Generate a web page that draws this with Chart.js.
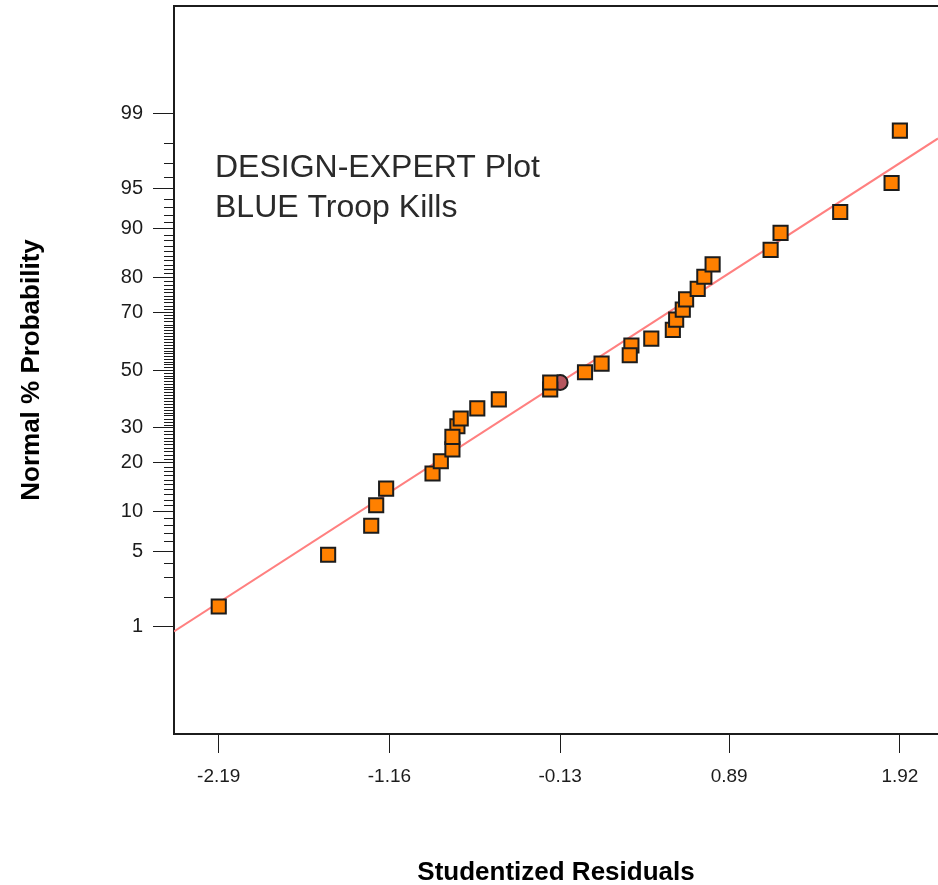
<!DOCTYPE html>
<html>
<head>
<meta charset="utf-8">
<script src="https://cdn.jsdelivr.net/npm/chart.js@4/dist/chart.umd.min.js"></script>
<style>
  html, body { margin: 0; padding: 0; background: #ffffff; overflow: hidden; }
  #wrap { width: 938px; height: 885px; }
</style>
</head>
<body>
<div id="wrap"><canvas id="chart" width="938" height="885"></canvas></div>
<script>
// Studentized residuals (x) and their normal probability in percent (y)
const residuals = [-2.19, -1.53, -1.27, -1.24, -1.18, -0.90, -0.85, -0.78, -0.75, -0.78,
                   -0.73, -0.63, -0.50, -0.19, -0.19, 0.02, 0.12, 0.30, 0.29, 0.42,
                   0.55, 0.57, 0.61, 0.63, 0.70, 0.74, 0.79, 1.14, 1.20, 1.56, 1.87, 1.92];
const probabilities = [1.6, 4.7, 7.9, 11.0, 14.1, 17.4, 20.4, 23.6, 30.5, 27.2,
                       33.0, 36.4, 39.5, 43.0, 45.5, 49.2, 52.3, 58.8, 55.3, 61.2,
                       64.2, 67.6, 70.8, 73.9, 76.9, 80.1, 83.1, 86.2, 89.3, 92.4, 95.5, 98.5];

// Highlighted run
const highlightResidual = [-0.13];
const highlightProbability = [45.5];

// Reference line end points
const fitResiduals = [-2.46, 2.15];
const fitProbabilities = [0.89, 98.21];

// Axis ticks
const xTickValues = [-2.19, -1.16, -0.13, 0.89, 1.92];
const xTickLabels = ['-2.19', '-1.16', '-0.13', '0.89', '1.92'];
const yTickPercents = [1, 5, 10, 20, 30, 50, 70, 80, 90, 95, 99];
const yTickLabels = ['1', '5', '10', '20', '30', '50', '70', '80', '90', '95', '99'];

const noteLines = ['DESIGN-EXPERT Plot', 'BLUE Troop Kills'];

// Inverse of the standard normal CDF (Acklam's rational approximation)
function probit(p) {
  const a = [-3.969683028665376e+01, 2.209460984245205e+02, -2.759285104469687e+02,
             1.383577518672690e+02, -3.066479806614716e+01, 2.506628277459239e+00];
  const b = [-5.447609879822406e+01, 1.615858368580409e+02, -1.556989798598866e+02,
             6.680131188771972e+01, -1.328068155288572e+01];
  const c = [-7.784894002430293e-03, -3.223964580411365e-01, -2.400758277161838e+00,
             -2.549732539343734e+00, 4.374664141464968e+00, 2.938163982698783e+00];
  const d = [7.784695709041462e-03, 3.224671290700398e-01, 2.445134137142996e+00,
             3.754408661907416e+00];
  const pl = 0.02425, ph = 1 - pl;
  let q, r;
  if (p < pl) {
    q = Math.sqrt(-2 * Math.log(p));
    return (((((c[0]*q + c[1])*q + c[2])*q + c[3])*q + c[4])*q + c[5]) /
           ((((d[0]*q + d[1])*q + d[2])*q + d[3])*q + 1);
  }
  if (p <= ph) {
    q = p - 0.5; r = q * q;
    return (((((a[0]*r + a[1])*r + a[2])*r + a[3])*r + a[4])*r + a[5]) * q /
           (((((b[0]*r + b[1])*r + b[2])*r + b[3])*r + b[4])*r + 1);
  }
  q = Math.sqrt(-2 * Math.log(1 - p));
  return -(((((c[0]*q + c[1])*q + c[2])*q + c[3])*q + c[4])*q + c[5]) /
          ((((d[0]*q + d[1])*q + d[2])*q + d[3])*q + 1);
}
const z = pct => probit(pct / 100);

// Unlabelled one-percent ticks on the probability axis
const minorPercents = [];
for (let p = 1; p <= 99; p++) if (!yTickPercents.includes(p)) minorPercents.push(p);

const ink = '#1c1c1c';

const frameAndNotes = {
  id: 'frameAndNotes',
  afterDraw(chart) {
    const { ctx, chartArea: { left, top, right }, scales: { y } } = chart;
    ctx.save();
    ctx.strokeStyle = ink;
    ctx.lineWidth = 1;
    minorPercents.forEach(p => {
      const py = Math.round(y.getPixelForValue(z(p))) + 0.5;
      ctx.beginPath();
      ctx.moveTo(left - 10, py);
      ctx.lineTo(left, py);
      ctx.stroke();
    });
    ctx.lineWidth = 2;
    ctx.beginPath();
    ctx.moveTo(left - 1, top);
    ctx.lineTo(right, top);
    ctx.stroke();

    ctx.fillStyle = '#2a2a2a';
    ctx.font = '32px "Liberation Sans", Arial, sans-serif';
    ctx.textBaseline = 'alphabetic';
    ctx.textAlign = 'left';
    ctx.fillText(noteLines[0], left + 41, top + 171);
    ctx.fillText(noteLines[1], left + 41, top + 211);
    ctx.restore();
  }
};

new Chart(document.getElementById('chart'), {
  type: 'scatter',
  data: {
    datasets: [
      {
        label: 'Residuals',
        data: residuals.map((r, i) => ({ x: r, y: z(probabilities[i]) })),
        pointStyle: 'rect',
        pointRadius: 10,
        backgroundColor: '#ff8000',
        borderColor: ink,
        borderWidth: 2
      },
      {
        label: 'Highlighted',
        data: highlightResidual.map((r, i) => ({ x: r, y: z(highlightProbability[i]) })),
        pointStyle: 'circle',
        pointRadius: 7.5,
        backgroundColor: '#b5565e',
        borderColor: ink,
        borderWidth: 2
      },
      {
        label: 'Normal line',
        type: 'line',
        data: fitResiduals.map((r, i) => ({ x: r, y: z(fitProbabilities[i]) })),
        borderColor: 'rgb(255,128,128)',
        borderWidth: 2,
        pointRadius: 0,
        fill: false
      }
    ]
  },
  options: {
    responsive: false,
    devicePixelRatio: 1,
    animation: false,
    layout: { autoPadding: false, padding: { top: 6, right: 0, bottom: 0, left: 0 } },
    plugins: { legend: { display: false }, tooltip: { enabled: false } },
    scales: {
      x: {
        type: 'linear',
        min: -2.46,
        max: 2.15,
        afterFit(scale) {
          scale.height = 151;
          scale.paddingLeft = 0;
          scale.paddingRight = 0;
        },
        afterBuildTicks(scale) { scale.ticks = xTickValues.map(v => ({ value: v })); },
        ticks: {
          callback: (v, i) => xTickLabels[i],
          font: { family: '"Liberation Sans", Arial, sans-serif', size: 19 },
          color: ink,
          padding: 12,
          maxRotation: 0
        },
        grid: { drawOnChartArea: false, drawTicks: true, tickLength: 19, tickColor: ink, tickWidth: 1 },
        border: { display: true, color: ink, width: 2 },
        title: {
          display: true,
          text: 'Studentized Residuals',
          font: { family: '"Liberation Sans", Arial, sans-serif', size: 26, weight: 'bold' },
          color: '#000',
          padding: { top: 0, bottom: -3 }
        }
      },
      y: {
        type: 'linear',
        min: -3.30,
        max: 3.30,
        afterFit(scale) {
          scale.width = 174;
          scale.paddingTop = 0;
          scale.paddingBottom = 0;
        },
        afterBuildTicks(scale) { scale.ticks = yTickPercents.map(p => ({ value: z(p) })); },
        ticks: {
          callback: (v, i) => yTickLabels[i],
          font: { family: '"Liberation Sans", Arial, sans-serif', size: 20 },
          color: ink,
          padding: 10
        },
        grid: { drawOnChartArea: false, drawTicks: true, tickLength: 21, tickColor: ink, tickWidth: 1 },
        border: { display: true, color: ink, width: 2 },
        title: {
          display: true,
          text: 'Normal % Probability',
          font: { family: '"Liberation Sans", Arial, sans-serif', size: 26, weight: 'bold' },
          color: '#000',
          padding: { top: 16, bottom: 0 }
        }
      }
    }
  },
  plugins: [frameAndNotes]
});
</script>
</body>
</html>
